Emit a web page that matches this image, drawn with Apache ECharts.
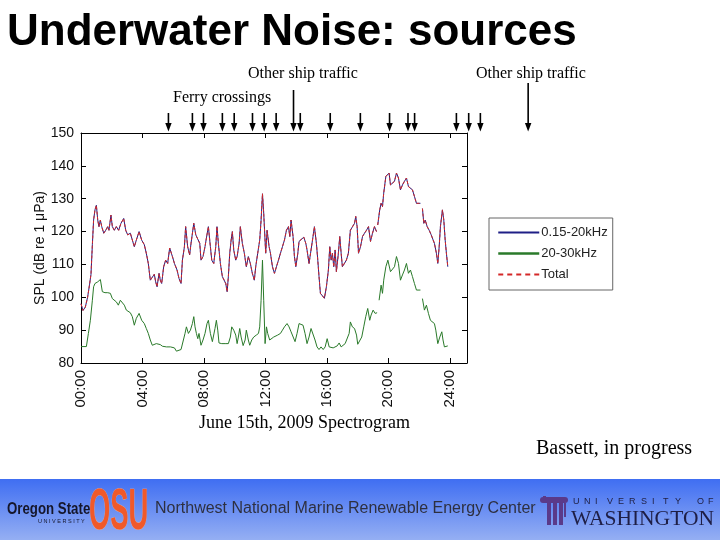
<!DOCTYPE html>
<html>
<head>
<meta charset="utf-8">
<script src="https://cdn.jsdelivr.net/npm/echarts@6/dist/echarts.min.js"></script>
<style>
html,body{margin:0;padding:0;background:#fff;}
#c{width:720px;height:540px;}
</style>
</head>
<body>
<div id="c"></div>
<script>
// ---------- data ----------
const xTickLabels = ['00:00','04:00','08:00','12:00','16:00','20:00','24:00'];
const yTickValues = [80,90,100,110,120,130,140,150];

const hours1 = [0.00,0.13,0.28,0.43,0.56,0.65,0.74,0.82,0.91,1.00,1.09,1.17,1.26,1.35,1.48,1.61,1.74,1.82,1.95,2.04,2.17,2.30,2.45,2.60,2.78,2.91,3.04,3.21,3.34,3.47,3.60,3.78,3.95,4.12,4.25,4.38,4.51,4.64,4.77,4.86,4.95,5.08,5.16,5.25,5.38,5.51,5.64,5.77,5.95,6.08,6.25,6.38,6.51,6.60,6.73,6.81,6.94,7.07,7.16,7.34,7.47,7.60,7.73,7.81,7.94,8.07,8.16,8.29,8.42,8.51,8.64,8.77,8.85,8.94,9.07,9.20,9.29,9.42,9.51,9.59,9.68,9.77,9.85,9.94,10.07,10.16,10.29,10.37,10.50,10.63,10.76,10.89,11.02,11.15,11.28,11.37,11.50,11.63,11.72,11.81,11.89,12.02,12.11,12.24,12.33,12.46,12.59,12.72,12.85,12.98,13.11,13.24,13.37,13.50,13.59,13.67,13.80,13.89,13.98,14.11,14.19,14.32,14.50,14.63,14.71,14.84,14.97,15.10,15.19,15.32,15.41,15.49,15.58,15.71,15.84,15.97,16.10,16.19,16.28,16.36,16.45,16.54,16.62,16.75,16.84,16.93,17.01,17.14,17.27,17.40,17.53,17.66,17.80,17.88,17.97,18.06,18.19,18.32,18.45,18.58,18.71,18.84,18.97,19.10,19.23,19.27,19.31,19.44,19.53,19.62,19.70,19.84,19.97,20.05,20.14,20.27,20.40,20.53,20.66,20.79,20.92,21.05,21.18,21.31,21.44,21.57,21.70,21.83,21.96,22.09,22.15,22.22,22.31,22.40,22.53,22.66,22.79,22.87,23.00,23.13,23.22,23.31,23.39,23.52,23.61,23.70,23.78,23.87];
const band1 = [98,96,97,100,104,107,116,123.5,126.6,128,123.5,121.5,123.5,121.5,119.5,120.4,121.5,120.4,125,121.5,120.4,121.5,120.4,122.5,124,120.4,119,119.5,119,115.4,117.4,120,117.4,116,113.4,110.3,105.2,105.2,107,104.7,103.2,107.3,105.2,104.2,109.3,111.3,110.3,115,112.4,110.3,108.3,105.7,104.2,111.3,115.4,121.5,115.4,112.9,116.4,122.5,119,119.5,116.4,111.3,112.4,115.4,118,121.5,115.4,111.3,110.3,115.4,121.5,116.4,110.3,106.3,105.7,104.2,101.7,106.3,113.4,117.4,120,114.4,111.3,112.4,116.4,121.5,116.4,113.4,109.3,112.4,110.3,107.3,105.2,109.3,113.4,117.4,123.5,131.5,125.6,113.4,120.4,115.4,113.4,109.3,107.3,109.3,111.3,113.4,115.4,117.4,120.4,121.5,118.5,123.5,118.5,112.4,109.3,113.4,117,117.4,118.3,116.4,114.4,110.3,114.4,118.5,121.5,116.4,111.3,106.3,101.2,100.7,99.7,103.2,108.3,115.4,111.3,113.4,109.3,114.4,107.8,113.4,118.5,113.4,109.3,109.8,111.3,113.4,120.4,120.4,122.5,124.6,121.5,113.4,115.4,118.5,119.5,120.4,121.5,117,119.5,121.5,120,null,122,126.6,128.6,127.6,131.7,136.8,137.3,137.8,134.2,134.7,135.3,137.8,136.3,132.7,134.2,135.3,136.3,133.7,134.2,132.7,130.7,128.6,129.1,128.6,null,127,122.5,123.5,121.5,120.4,119,119.5,116.4,113.4,110.3,115.4,121.5,126.6,123.5,117.4,113.4,109.3];
const totalLevel = [98,96,97,100,104,107,116,123.5,126.6,128,123.5,121.5,123.5,121.5,119.5,120.4,121.5,120.4,125,121.5,120.4,121.5,120.4,122.5,124,120.4,119,119.5,119,115.4,117.4,120,117.4,116,113.4,110.3,105.2,105.2,107,104.7,103.2,107.3,105.2,104.2,109.3,111.3,110.3,115,112.4,110.3,108.3,105.7,104.2,111.3,115.4,121.5,115.4,112.9,116.4,122.5,119,119.5,116.4,111.3,112.4,115.4,118,121.5,115.4,111.3,110.3,115.4,121.5,116.4,110.3,106.3,105.7,104.2,101.7,106.3,113.4,117.4,120,114.4,111.3,112.4,116.4,121.5,116.4,113.4,109.3,112.4,110.3,107.3,105.2,109.3,113.4,117.4,123.5,131.5,125.6,113.4,120.4,115.4,113.4,109.3,107.3,109.3,111.3,113.4,115.4,117.4,120.4,121.5,118.5,123.5,118.5,112.4,109.3,113.4,117,117.4,118.3,116.4,114.4,110.3,114.4,118.5,121.5,116.4,111.3,106.3,101.2,100.7,99.7,103.2,108.3,115.4,111.3,113.4,109.3,114.4,107.8,113.4,118.5,113.4,109.3,109.8,111.3,113.4,120.4,120.4,122.5,124.6,121.5,113.4,115.4,118.5,119.5,120.4,121.5,117,119.5,121.5,120,null,122,126.6,128.6,127.6,131.7,136.8,137.3,137.8,134.2,134.7,135.3,137.8,136.3,132.7,134.2,135.3,136.3,133.7,134.2,132.7,130.7,128.6,129.1,128.6,null,127,122.5,123.5,121.5,120.4,119,119.5,116.4,113.4,110.3,115.4,121.5,126.6,123.5,117.4,113.4,109.3];

const hours2 = [0.00,0.35,0.48,0.61,0.74,0.82,0.91,1.09,1.26,1.39,1.56,1.74,1.91,2.04,2.17,2.30,2.43,2.56,2.69,2.82,2.95,3.08,3.21,3.34,3.47,3.60,3.78,3.95,4.12,4.25,4.38,4.51,4.64,4.77,4.90,5.03,5.16,5.30,5.43,5.56,5.69,5.82,5.95,6.08,6.21,6.34,6.51,6.64,6.77,6.86,6.99,7.12,7.25,7.34,7.42,7.51,7.60,7.68,7.81,7.94,8.07,8.20,8.29,8.42,8.55,8.64,8.72,8.81,8.90,8.98,9.16,9.38,9.59,9.72,9.81,9.94,10.07,10.16,10.24,10.33,10.42,10.55,10.68,10.76,10.89,10.98,11.11,11.24,11.41,11.55,11.63,11.72,11.81,11.89,11.98,12.07,12.15,12.28,12.41,12.54,12.67,12.80,12.98,13.11,13.24,13.41,13.54,13.67,13.80,13.93,14.06,14.19,14.32,14.45,14.58,14.71,14.84,14.97,15.10,15.23,15.36,15.49,15.62,15.76,15.89,16.02,16.15,16.28,16.41,16.54,16.67,16.80,16.93,17.06,17.19,17.32,17.45,17.53,17.66,17.80,17.93,18.01,18.14,18.27,18.40,18.53,18.66,18.79,18.88,19.01,19.14,19.27,19.33,19.40,19.53,19.62,19.70,19.84,19.97,20.05,20.14,20.27,20.40,20.53,20.66,20.79,20.92,21.05,21.18,21.31,21.44,21.57,21.70,21.83,21.96,22.09,22.15,22.22,22.35,22.48,22.61,22.74,22.87,23.00,23.09,23.22,23.35,23.48,23.56,23.65,23.78,23.87];
const band2 = [85,85,89,93,99.1,103.2,104.2,104.7,105.4,101.7,101.4,101.4,101.2,99.6,100.1,98.6,97.6,99.1,99.3,97.6,96.1,95.6,95.3,94.1,91.5,93.6,95.1,93,92,90.5,89,87,85.4,85.7,85.9,85.3,85.6,85.1,85.3,84.9,85.1,84.9,84.9,84.6,83.6,84.1,84.1,84.1,89,91,89,90,92,94.1,91,89,87.4,89,85.4,87,89,92,93,89,86.5,85.9,90.5,93,90,86.1,85.9,85.9,85.9,87.9,91,90,88.5,85.9,87.9,90.5,87.9,85.3,87,90,87,85.4,87,87.9,88.5,89,91,99.1,111.3,99.1,85.9,91,89,87,87.4,87.9,87.9,88.5,89,90,91,92,91,89.5,89,86.5,89,92,92.5,91.5,89,85.9,87.9,90.5,90,87,84.9,84.1,84.9,84.1,84.9,87.4,84.9,84.6,84.6,84.9,85.2,86.1,84.9,85.5,85.9,86.5,89,92.5,91,90.5,88.5,85.7,85.9,87.9,91,94.1,96.6,93,94.6,96.1,95.1,95.3,null,99.1,103.7,101.2,105.2,109.3,111.3,111.8,107.8,107.8,109.3,112.4,110.3,105.2,106.8,108.3,110.3,107.3,108.3,106.3,104.2,102.2,102.7,102.2,null,99.6,96.1,97.6,95.1,93,93.6,92,90,85.9,87.9,89.5,87,84.9,85.4,85.2];

const seriesNames = ['0.15-20kHz','20-30kHz','Total'];
const ferryHours = [5.69,7.25,7.97,9.2,9.97,11.16,11.92,12.7,14.27,16.22,18.18,20.08,21.28,21.71,24.43,25.23,25.99];
const otherShipHours = [13.83,29.1];

// ---------- chart ----------
const SANS = "'Liberation Sans', Arial, sans-serif";
const SERIF = "'Liberation Serif', 'Times New Roman', serif";
const BLUE = '#1f1f86', GREEN = '#2a7a2a', RED = '#d42828';

const chart = echarts.init(document.getElementById('c'), null, {renderer:'canvas'});

function pairs(xs, ys){ return xs.map((x,i)=>[x, ys[i]]); }

const boxAxisLine = {show:true, onZero:false, lineStyle:{color:'#000', width:1}};
const inTick = {show:true, inside:true, length:5, lineStyle:{color:'#000', width:1}};

chart.setOption({
  backgroundColor:'#ffffff',
  animation:false,
  grid:{left:81, top:133, right:253, bottom:177, outerBoundsMode:'none', containLabel:false},
  xAxis:[
    {type:'value', position:'bottom', min:0, max:25.12, interval:4,
     axisLine:boxAxisLine, axisTick:inTick, splitLine:{show:false},
     axisLabel:{show:true, rotate:90, margin:7, fontFamily:SANS, fontSize:15, color:'#111',
       showMaxLabel:false,
       formatter:function(v){ const i=Math.round(v/4); return (Math.abs(v-i*4)<1e-6 && xTickLabels[i]) ? xTickLabels[i] : ''; }}},
    {type:'value', position:'top', min:0, max:25.12, interval:4,
     axisLine:boxAxisLine, axisTick:inTick, splitLine:{show:false}, axisLabel:{show:false}}
  ],
  yAxis:[
    {type:'value', position:'left', min:yTickValues[0], max:yTickValues[yTickValues.length-1], interval:10,
     axisLine:boxAxisLine, axisTick:inTick, splitLine:{show:false},
     axisLabel:{margin:7, fontFamily:SANS, fontSize:14, color:'#111'},
     name:'SPL (dB re 1 \u03bcPa)', nameLocation:'middle', nameGap:34, nameRotate:90, nameMoveOverlap:false,
     nameTextStyle:{fontFamily:SANS, fontSize:14, color:'#111'}},
    {type:'value', position:'right', min:yTickValues[0], max:yTickValues[yTickValues.length-1], interval:10,
     axisLine:boxAxisLine, axisTick:inTick, splitLine:{show:false}, axisLabel:{show:false}}
  ],
  legend:{
    data:[
      {name:seriesNames[0]},
      {name:seriesNames[1], lineStyle:{width:2.5}},
      {name:seriesNames[2], lineStyle:{type:[5,4]}}
    ],
    orient:'vertical', left:489, top:218,
    backgroundColor:'#fff', borderColor:'#666', borderWidth:1,
    padding:[8,5,9,8], itemGap:8, itemWidth:41, itemHeight:14,
    itemStyle:{opacity:0},
    textStyle:{fontFamily:SANS, fontSize:13, color:'#222', padding:[0,0,0,-3]}
  },
  series:[
    {name:seriesNames[0], type:'line', data:pairs(hours1, band1), symbol:'none', connectNulls:false,
     lineStyle:{color:BLUE, width:1}, itemStyle:{color:BLUE}, z:2},
    {name:seriesNames[1], type:'line', data:pairs(hours2, band2), symbol:'none', connectNulls:false,
     lineStyle:{color:GREEN, width:1}, itemStyle:{color:GREEN}, z:2},
    {name:seriesNames[2], type:'line', data:pairs(hours1, totalLevel), symbol:'none', connectNulls:false,
     lineStyle:{color:RED, width:1, type:[3,2]}, itemStyle:{color:RED}, z:3}
  ]
});

// ---------- annotations & slide decoration ----------
const g = [];
g.push({type:'text', left:7, top:11, style:{text:'Underwater Noise: sources', fontFamily:SANS, fontWeight:'bold', fontSize:44, fill:'#000'}});
g.push({type:'text', x:248, y:74, style:{text:'Other ship traffic', fontFamily:SERIF, fontSize:16, fill:'#000', verticalAlign:'middle'}});
g.push({type:'text', x:476, y:74, style:{text:'Other ship traffic', fontFamily:SERIF, fontSize:16, fill:'#000', verticalAlign:'middle'}});
g.push({type:'text', x:173, y:98, style:{text:'Ferry crossings', fontFamily:SERIF, fontSize:16, fill:'#000', verticalAlign:'middle'}});
g.push({type:'text', x:199, y:423, style:{text:'June 15th, 2009 Spectrogram', fontFamily:SERIF, fontSize:18, fill:'#000', verticalAlign:'middle'}});
g.push({type:'text', x:536, y:449, style:{text:'Bassett, in progress', fontFamily:SERIF, fontSize:20, fill:'#000', verticalAlign:'middle'}});

// arrows placed through the x-axis scale
function arrow(h, topY){
  const x = chart.convertToPixel({xAxisIndex:0}, h);
  g.push({type:'line', shape:{x1:x, y1:topY, x2:x, y2:125}, style:{stroke:'#000', lineWidth:1.6}, z:10});
  g.push({type:'polygon', shape:{points:[[x-3.2,123],[x+3.2,123],[x,131.5]]}, style:{fill:'#000'}, z:10});
}
ferryHours.forEach(h=>arrow(h,113));
arrow(otherShipHours[0], 90);
arrow(otherShipHours[1], 83);

// footer band
g.push({type:'rect', shape:{x:0, y:479, width:720, height:61},
  style:{fill:new echarts.graphic.LinearGradient(0,0,0,1,[{offset:0,color:'#3f6ef2'},{offset:1,color:'#95aff3'}])}, z:1});
// OSU
g.push({type:'text', x:7, y:509, scaleX:0.78, z:5, style:{text:'Oregon State', fontFamily:SANS, fontWeight:'bold', fontSize:17, fill:'#15162a', verticalAlign:'middle'}});
g.push({type:'text', x:38, y:521, z:5, style:{text:'U N I V E R S I T Y', fontFamily:SANS, fontSize:5.5, fill:'#15162a', verticalAlign:'middle'}});
g.push({type:'text', x:89, y:513, scaleX:0.48, z:5,
  style:{text:'OSU', fontFamily:SANS, fontWeight:'bold', fontSize:57, fill:'#f0592a', verticalAlign:'middle', stroke:'#ffb08a', lineWidth:0.6}});
g.push({type:'text', x:155, y:509, z:5, style:{text:'Northwest National Marine Renewable Energy Center', fontFamily:SANS, fontSize:16, fill:'#2e3040', verticalAlign:'middle'}});
// UW column icon
const colCol = '#5a3a8a';
g.push({type:'rect', shape:{x:540, y:497, width:28, height:6, r:3}, style:{fill:colCol}, z:5});
g.push({type:'rect', shape:{x:543, y:496, width:3, height:4}, style:{fill:colCol}, z:5});
[547,553,559].forEach(cx=>g.push({type:'rect', shape:{x:cx, y:503, width:4, height:22}, style:{fill:colCol}, z:5}));
g.push({type:'rect', shape:{x:564, y:503, width:2, height:14}, style:{fill:colCol}, z:5});
// UW text
const uwTop = 'UNIVERSITYOF';
const uwX = [573,584,595,607,618,629,641,652,663,675,697,708];
uwTop.split('').forEach((ch,i)=>g.push({type:'text', x:uwX[i], y:502, z:5, style:{text:ch, fontFamily:SANS, fontSize:9, fill:'#1e1e40', verticalAlign:'middle'}}));
g.push({type:'text', x:571, y:519, z:5, style:{text:'WASHINGTON', fontFamily:SERIF, fontSize:21.5, fill:'#1e1e45', verticalAlign:'middle'}});

chart.setOption({graphic:g});
</script>
</body>
</html>
